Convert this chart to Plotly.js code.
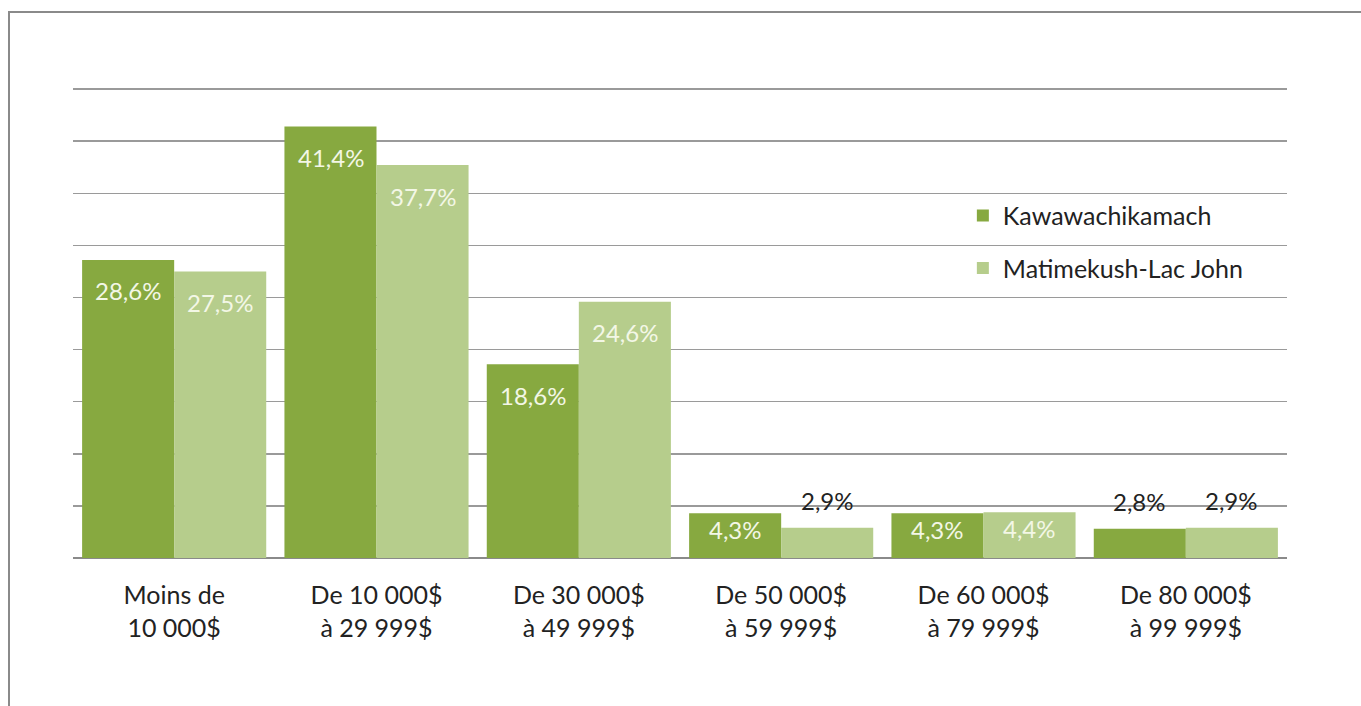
<!DOCTYPE html>
<html>
<head>
<meta charset="utf-8">
<script src="https://cdn.plot.ly/plotly-3.0.1.min.js"></script>
<style>
  html, body { margin: 0; padding: 0; background: #ffffff; }
  #chart { width: 1361px; height: 706px; }
  #frame { position: absolute; left: 8px; top: 11px; width: 1400px; height: 800px;
           border-left: 2px solid #8a8a8a; border-top: 2px solid #8a8a8a; pointer-events: none; }
</style>
</head>
<body>
<div id="chart"></div>
<div id="frame"></div>
<script>
const categories = [
  "Moins de<br>10 000$",
  "De 10 000$<br>à 29 999$",
  "De 30 000$<br>à 49 999$",
  "De 50 000$<br>à 59 999$",
  "De 60 000$<br>à 79 999$",
  "De 80 000$<br>à 99 999$"
];
const seriesNames = ["Kawawachikamach", "Matimekush-Lac John"];
const kawawachikamach = [28.6, 41.4, 18.6, 4.3, 4.3, 2.8];
const matimekush = [27.5, 37.7, 24.6, 2.9, 4.4, 2.9];
const colors = ["#87a940", "#b6cd8c"];
const FONT = "Lato, 'Open Sans', sans-serif";

function fmt(v) { return v.toFixed(1).replace(".", ",") + "%"; }

const traces = [kawawachikamach, matimekush].map((vals, i) => ({
  type: "bar",
  name: seriesNames[i],
  x: categories,
  y: vals,
  marker: { color: colors[i] },
  legendgroup: "g" + i,
  hoverinfo: "skip"
}));

const annotations = [];
[kawawachikamach, matimekush].forEach((vals, i) => {
  vals.forEach((v, j) => {
    const outside = v < 4;
    let yshift;
    if (outside) yshift = 27;
    else if (v < 10) yshift = -16;
    else yshift = -31;
    annotations.push({
      x: categories[j], y: v, xref: "x", yref: "y",
      xshift: i === 0 ? -46 : 46,
      yshift: yshift,
      text: fmt(v), showarrow: false,
      yanchor: "middle", xanchor: "center",
      font: { family: FONT, size: 24, color: outside ? "#222222" : "#f3f7e6" }
    });
  });
});

const layout = {
  width: 1361, height: 706,
  margin: { l: 73, r: 74, t: 88, b: 148 },
  paper_bgcolor: "#ffffff", plot_bgcolor: "#ffffff",
  barmode: "group",
  bargap: 0.09, bargroupgap: 0,
  font: { family: FONT, size: 24, color: "#222222" },
  xaxis: {
    type: "category",
    showgrid: false, zeroline: false, showline: false,
    ticks: "", tickfont: { family: FONT, size: 25, color: "#222222" },
    ticklabelstandoff: 20
  },
  yaxis: {
    range: [0, 45.1], tick0: 0, dtick: 5, showticklabels: false,
    showgrid: true, gridcolor: "#9a9a9a", gridwidth: 1.5,
    zeroline: true, zerolinecolor: "#8a8a8a", zerolinewidth: 2,
    showline: false, ticks: ""
  },
  showlegend: true,
  legend: {
    x: 0.733, y: 0.777, xanchor: "left", yanchor: "top",
    bgcolor: "rgba(255,255,255,0)",
    font: { family: FONT, size: 25, color: "#222222" },
    tracegroupgap: 17,
    itemwidth: 30
  },
  annotations: annotations
};

Plotly.newPlot("chart", traces, layout, { displayModeBar: false, staticPlot: true });
</script>
</body>
</html>
